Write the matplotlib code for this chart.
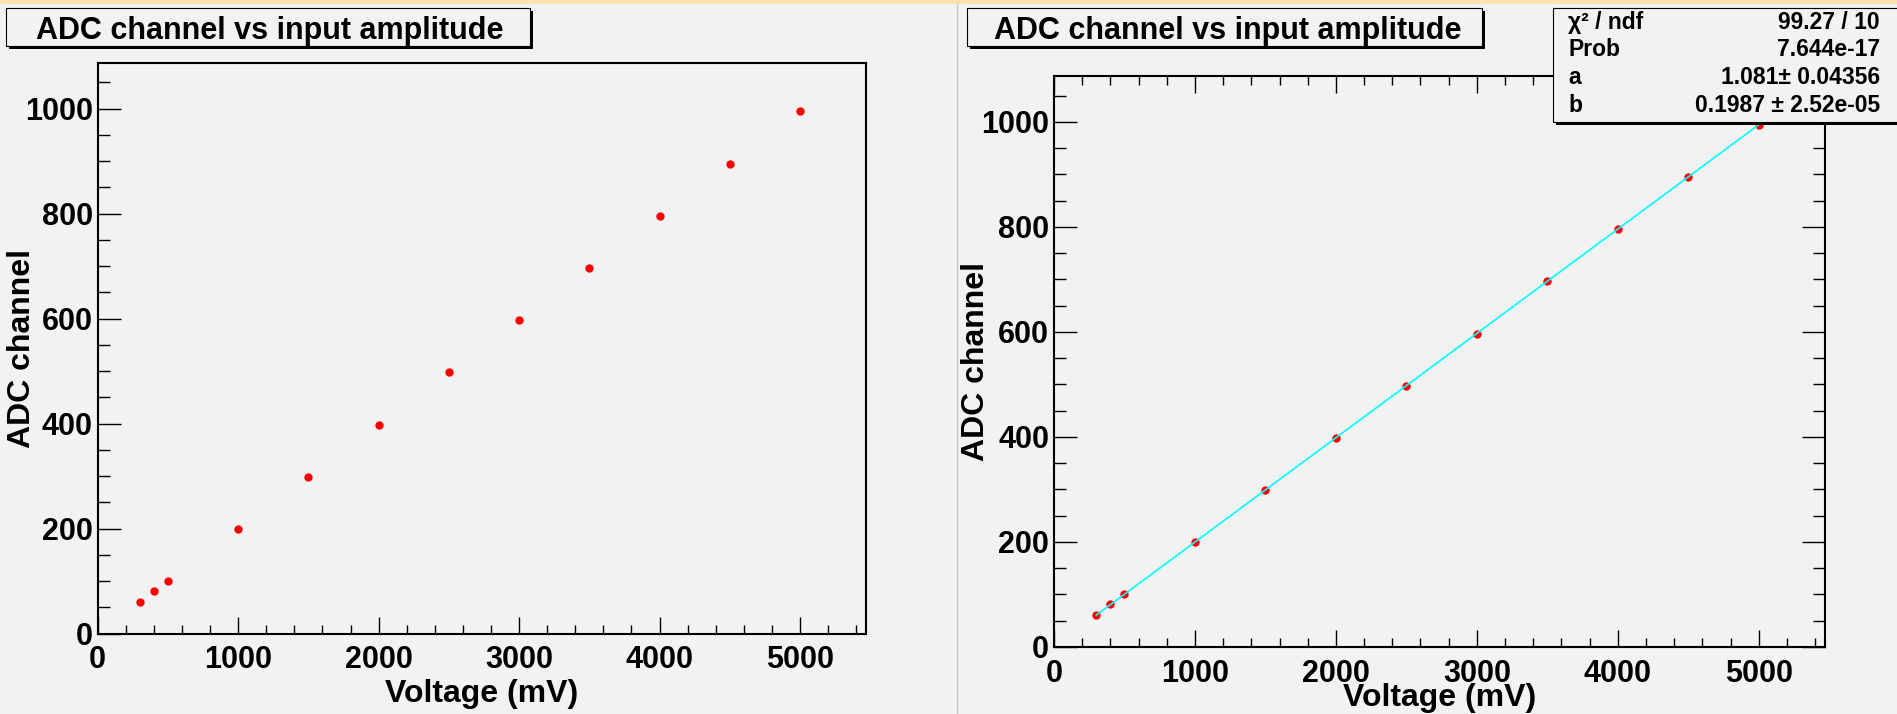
import numpy as np
import matplotlib
matplotlib.use('Agg')
import matplotlib.pyplot as plt
from matplotlib.patches import Rectangle
from matplotlib.lines import Line2D
from matplotlib.ticker import MultipleLocator
from matplotlib.transforms import Affine2D

# data
voltage = [300, 400, 500, 1000, 1500, 2000, 2500, 3000, 3500, 4000, 4500, 5000]
adc = [61, 81, 100, 200, 299, 398, 498, 597, 697, 796, 895, 995]

# fit results (pol1: a + b*x)
fit_a = 1.081
fit_b = 0.1987
stats_labels = ['χ² / ndf', 'Prob', 'a', 'b']
stats_values = ['99.27 / 10', '7.644e-17', '1.081± 0.04356', '0.1987 ± 2.52e-05']

title = 'ADC channel vs input amplitude'
xlabel = 'Voltage (mV)'
ylabel = 'ADC channel'

W, H = 1897, 714
BG = '#F2F2F2'

plt.rcParams['font.family'] = ['Liberation Sans', 'DejaVu Sans']
plt.rcParams['font.weight'] = 'bold'
plt.rcParams['axes.labelweight'] = 'bold'

fig = plt.figure(figsize=(W / 100, H / 100), dpi=100, facecolor=BG)
# pixel coords, origin top-left
px = Affine2D().scale(1 / W, -1 / H).translate(0, 1) + fig.transFigure


def rect(l, t, r, b):
    return [l / W, 1 - b / H, (r - l) / W, (b - t) / H]


def style(ax, all_ticks, xpad):
    ax.set_facecolor(BG)
    ax.set_xlim(0, 5470)
    ax.set_ylim(0, 1088)
    ax.xaxis.set_major_locator(MultipleLocator(1000))
    ax.xaxis.set_minor_locator(MultipleLocator(200))
    ax.yaxis.set_major_locator(MultipleLocator(200))
    ax.yaxis.set_minor_locator(MultipleLocator(50))
    for s in ax.spines.values():
        s.set_linewidth(1.5)
    ax.tick_params(which='both', direction='in', width=1.0,
                   top=all_ticks, right=all_ticks, labelsize=22)
    ax.tick_params(axis='x', which='major', length=12.5, pad=xpad)
    ax.tick_params(axis='x', which='minor', length=6.2)
    ax.tick_params(axis='y', which='major', length=16.5, pad=3.5)
    ax.tick_params(axis='y', which='minor', length=8.3)


def title_box(l, t, r, b, cx):
    fig.add_artist(Rectangle((l + 3, t + 3), r - l, b - t, transform=px,
                             fc='black', ec='none', zorder=5))
    fig.add_artist(Rectangle((l, t), r - l, b - t, transform=px,
                             fc=BG, ec='black', lw=0.8, zorder=6))
    fig.text(cx, 39.5, title, transform=px, ha='center', va='baseline',
             fontsize=22, zorder=7)


# window strip + pad separator
fig.add_artist(Rectangle((0, 0), W, 4, transform=px, fc='#FBE2B0', ec='none', zorder=1))
fig.add_artist(Line2D([956.5, 956.5], [4, H], transform=px, color='#C8C8C8', lw=1, zorder=1))

# left pad: graph only
ax1 = fig.add_axes(rect(97.7, 62.5, 866, 633.7))
style(ax1, False, 8)
ax1.plot(voltage, adc, 'o', color='red', ms=6, mew=0, zorder=3)
ax1.set_xlabel(xlabel, fontsize=23, va='baseline')
ax1.xaxis.set_label_coords(0.5, -0.119)
ax1.set_ylabel(ylabel, fontsize=23, va='center')
ax1.yaxis.set_label_coords(-0.099, 0.5)
title_box(6, 8, 530, 46, 270)

# right pad: graph with linear fit
ax2 = fig.add_axes(rect(1054, 75.7, 1825, 647))
style(ax2, True, 8.8)
ax2.plot(voltage, adc, 'o', color='red', ms=6, mew=0, zorder=3)
xfit = np.array([min(voltage), max(voltage)])
ax2.plot(xfit, fit_a + fit_b * xfit, color='#00FFFF', lw=1.2, zorder=4)
ax2.set_xlabel(xlabel, fontsize=23, va='baseline')
ax2.xaxis.set_label_coords(0.5, -0.1035)
ax2.set_ylabel(ylabel, fontsize=23, va='center')
ax2.yaxis.set_label_coords(-0.101, 0.5)
title_box(967, 8, 1482, 46, 1228)

# stats box
sl, st, sr, sb = 1553, 8, 1905, 121.5
fig.add_artist(Rectangle((sl + 3, st + 3), sr - sl, sb - st, transform=px,
                         fc='black', ec='none', zorder=5))
fig.add_artist(Rectangle((sl, st), sr - sl, sb - st, transform=px,
                         fc=BG, ec='black', lw=0.8, zorder=6))
rows = [29, 56.5, 84, 111.5]
for y, lab, val in zip(rows, stats_labels, stats_values):
    fig.text(1568, y, lab, transform=px, ha='left', va='baseline', fontsize=16.5, zorder=7)
    fig.text(1880, y, val, transform=px, ha='right', va='baseline', fontsize=16.5, zorder=7)

plt.savefig('out.png', dpi=100, facecolor=BG)
